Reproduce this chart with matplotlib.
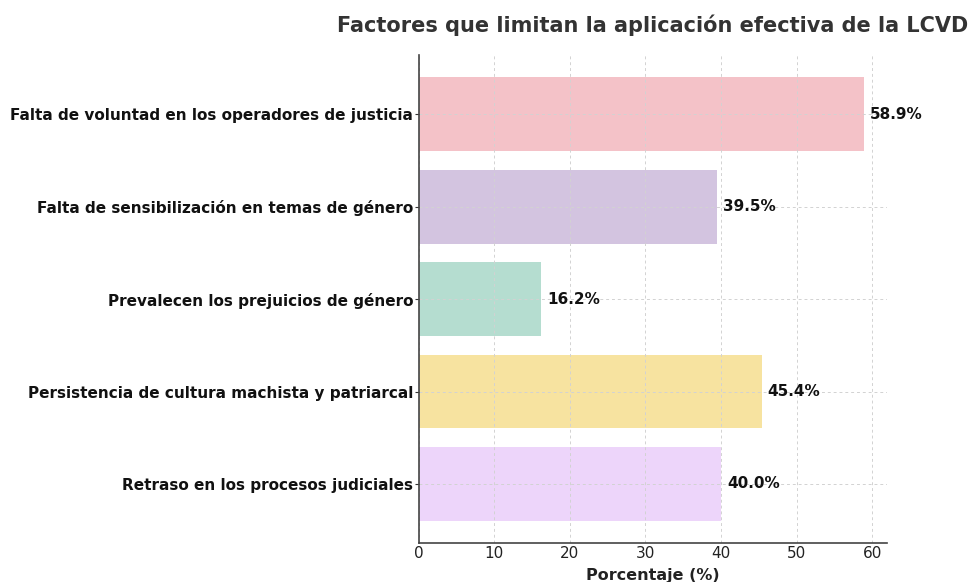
import numpy as np
import matplotlib
matplotlib.use('Agg')
import matplotlib.pyplot as plt

# Data
categories = ['Falta de voluntad en los operadores de justicia',
              'Falta de sensibilización en temas de género',
              'Prevalecen los prejuicios de género',
              'Persistencia de cultura machista y patriarcal',
              'Retraso en los procesos judiciales']
values = [58.9, 39.5, 16.2, 45.4, 40.0]
colors = ['#F4C2C8', '#D3C4E0', '#B5DDD0', '#F7E3A0', '#EDD5FA']

fig, ax = plt.subplots(figsize=(9.76, 5.82), dpi=100)
fig.subplots_adjust(left=0.429, right=0.909, top=0.905, bottom=0.067)

y = np.arange(len(categories))
ax.barh(y, values, height=0.8, color=colors, zorder=1)
ax.invert_yaxis()
ax.set_yticks(y)
ax.set_yticklabels(categories, fontsize=11, fontweight='bold', color='#111111')
ax.tick_params(axis='x', labelsize=11, labelcolor='#222222', length=0, pad=2)
ax.tick_params(axis='y', color='#333333', length=3, pad=1)
ax.set_xlim(0, 62)

for yi, v in zip(y, values):
    ax.text(v + 0.8, yi, f'{v:.1f}%', va='center', ha='left',
            fontsize=11, fontweight='bold', color='#111111')

ax.grid(True, linestyle=(0, (3, 3)), color='#D2D2D2', linewidth=0.7, zorder=2)
ax.set_axisbelow(False)
ax.spines['top'].set_visible(False)
ax.spines['right'].set_visible(False)
for side in ['left', 'bottom']:
    ax.spines[side].set_color('#444444')
    ax.spines[side].set_linewidth(1.2)
    ax.spines[side].set_zorder(5)

ax.set_xlabel('Porcentaje (%)', fontsize=11.5, fontweight='bold', color='#222222', labelpad=5)
ax.set_title('Factores que limitan la aplicación efectiva de la LCVD',
             fontsize=15, fontweight='bold', color='#333333', pad=17)

fig.savefig('out.png', dpi=100)
